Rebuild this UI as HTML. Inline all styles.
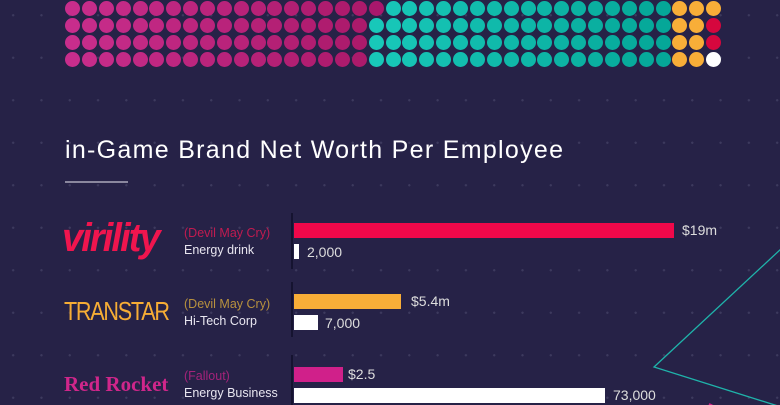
<!DOCTYPE html><html><head><style>
body{margin:0;width:780px;height:405px;overflow:hidden;background:#262247;font-family:"Liberation Sans",sans-serif;position:relative}
.bg{position:absolute;inset:0;background-image:radial-gradient(circle,#3d3a5e 1px,transparent 1.3px);background-size:28.3px 42.5px;background-position:-1px -6px}
.d{position:absolute;width:15px;height:15px;border-radius:50%}
.t{position:absolute;color:#fff;white-space:nowrap}
.b{position:absolute;height:15px}
.ax{position:absolute;left:291px;width:2px;background:#151330}
</style></head><body><div class="bg"></div>
<div id="dots"></div>
<div class="t" style="left:65px;top:136px;font-size:25px;letter-spacing:1.3px">in-Game Brand Net Worth Per Employee</div>
<div style="position:absolute;left:65px;top:181px;width:63px;height:2px;background:#8a879e"></div>
<div class="t" style="left:62px;top:216px;font-size:40px;font-weight:bold;font-style:italic;color:#f0154e;letter-spacing:-2px;transform-origin:0 0;transform:scaleX(0.95)">virility</div>
<div class="t" style="left:64px;top:296px;font-size:26px;color:#f6ad35;letter-spacing:-1.5px;transform-origin:0 0;transform:scaleX(0.83)">TRANSTAR</div>
<div class="t" style="left:64px;top:372px;font-size:21px;font-weight:bold;color:#d0268b;font-family:'Liberation Serif',serif">Red Rocket</div>
<div class="t" style="left:184px;top:226px;font-size:12.5px;color:#c11b50">(Devil May Cry)</div>
<div class="t" style="left:184px;top:243px;font-size:12.5px;color:#e8e6f0">Energy drink</div>
<div class="t" style="left:184px;top:297px;font-size:12.5px;color:#b8913e">(Devil May Cry)</div>
<div class="t" style="left:184px;top:314px;font-size:12.5px;color:#e8e6f0">Hi-Tech Corp</div>
<div class="t" style="left:184px;top:369px;font-size:12.5px;color:#a5237a">(Fallout)</div>
<div class="t" style="left:184px;top:386px;font-size:12.5px;color:#e8e6f0">Energy Business</div>
<div class="ax" style="top:213px;height:56px"></div>
<div class="ax" style="top:282px;height:55px"></div>
<div class="ax" style="top:355px;height:50px"></div>
<div class="b" style="left:294px;top:223px;width:380px;background:#f0084a"></div>
<div class="b" style="left:294px;top:244px;width:5px;background:#fff"></div>
<div class="b" style="left:294px;top:294px;width:107px;background:#f8ae38"></div>
<div class="b" style="left:294px;top:315px;width:24px;background:#fff"></div>
<div class="b" style="left:294px;top:367px;width:49px;background:#d0208a"></div>
<div class="b" style="left:294px;top:388px;width:311px;background:#fff"></div>
<div class="t" style="left:682px;top:222px;font-size:14px;color:#ddd">$19m</div>
<div class="t" style="left:307px;top:244px;font-size:14px;color:#ddd">2,000</div>
<div class="t" style="left:411px;top:293px;font-size:14px;color:#ddd">$5.4m</div>
<div class="t" style="left:325px;top:315px;font-size:14px;color:#ddd">7,000</div>
<div class="t" style="left:348px;top:366px;font-size:14px;color:#ddd">$2.5</div>
<div class="t" style="left:613px;top:387px;font-size:14px;color:#ddd">73,000</div>
<svg style="position:absolute;left:0;top:0" width="780" height="405"><polyline points="782,248 654,367 778,406" fill="none" stroke="#1fb3aa" stroke-width="1.3"/><line x1="709" y1="404" x2="713" y2="406" stroke="#d0208a" stroke-width="2"/></svg>
<script>
var h='';for(var r=0;r<4;r++){for(var c=0;c<39;c++){var col;var y=[1,18,35,52][r];
if(c<18||(c==18&&r==0)){var k=c/18;col='rgb('+Math.round(200-30*k)+','+Math.round(45-20*k)+','+Math.round(140-35*k)+')';if(c==18)col='#a8176c';}
else if(c<36){var k=(c-18)/18;col='rgb('+Math.round(24-20*k)+','+Math.round(200-35*k)+','+Math.round(185-35*k)+')';}
else if(c<38)col='#f8ae38';else col=['#f8ae38','#d6073e','#d6073e','#ffffff'][r];
h+='<div class="d" style="left:'+(65+c*16.87).toFixed(1)+'px;top:'+y+'px;background:'+col+'"></div>';}}
document.getElementById('dots').innerHTML=h;
</script>
</body></html>
